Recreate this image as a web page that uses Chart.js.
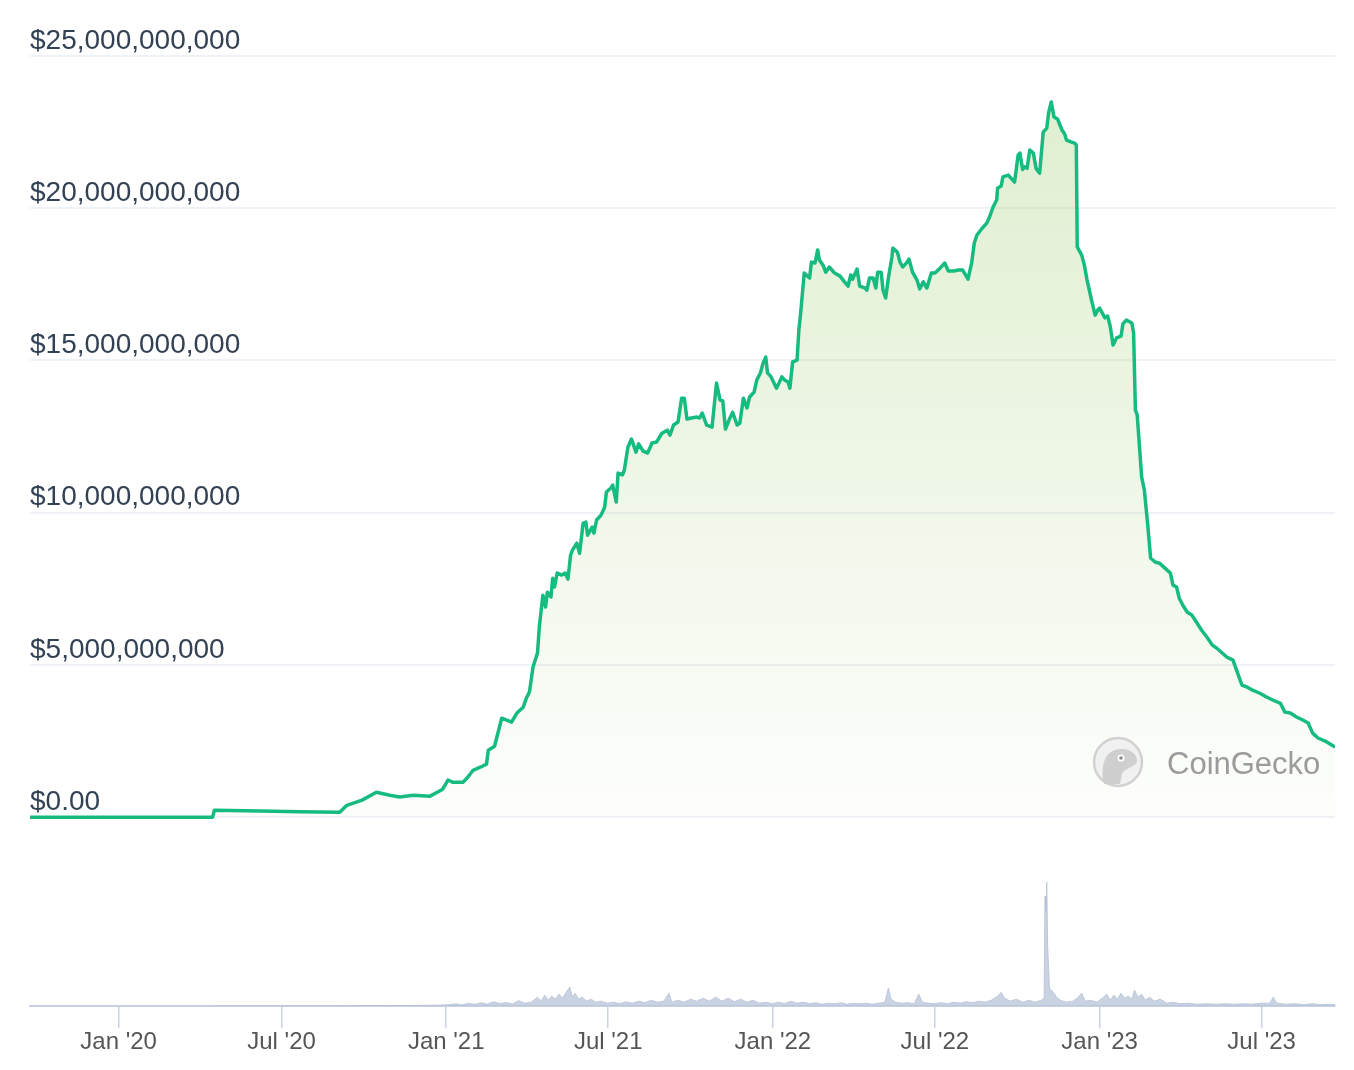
<!DOCTYPE html>
<html>
<head>
<meta charset="utf-8">
<title>Market Cap</title>
<script src="https://cdn.jsdelivr.net/npm/chart.js@4.4.0/dist/chart.umd.min.js"></script>
<style>
  html, body { margin: 0; padding: 0; background: #fff; }
  #wrap { width: 1354px; height: 1070px; }
</style>
</head>
<body>
<div id="wrap"><canvas id="myChart" width="1354" height="1070"></canvas></div>
<script>
// market cap, billions of USD
var capDates = ["2019-09-24","2020-04-15","2020-04-17","2020-06-07","2020-07-21","2020-09-04","2020-09-12","2020-09-29","2020-10-15","2020-10-30","2020-11-10","2020-11-25","2020-12-14","2020-12-22","2020-12-28",
  "2021-01-03","2021-01-08","2021-01-20","2021-01-25","2021-01-31","2021-02-08","2021-02-15","2021-02-17","2021-02-24","2021-03-04","2021-03-15","2021-03-21","2021-03-28","2021-04-01","2021-04-04","2021-04-08","2021-04-13","2021-04-15","2021-04-19","2021-04-22","2021-04-24","2021-04-28","2021-04-30","2021-05-02","2021-05-05","2021-05-10","2021-05-14","2021-05-17","2021-05-20","2021-05-22","2021-05-27","2021-05-30","2021-06-03","2021-06-06","2021-06-08","2021-06-13","2021-06-15","2021-06-18","2021-06-23","2021-06-27","2021-06-29","2021-07-04","2021-07-06","2021-07-10","2021-07-12","2021-07-17","2021-07-19","2021-07-23","2021-07-27","2021-08-01","2021-08-04","2021-08-09","2021-08-14","2021-08-19","2021-08-24","2021-08-30","2021-09-05","2021-09-08","2021-09-12","2021-09-17","2021-09-21","2021-09-24","2021-09-27","2021-10-02","2021-10-08","2021-10-11","2021-10-14","2021-10-19","2021-10-25","2021-10-30","2021-11-03","2021-11-06","2021-11-09","2021-11-13","2021-11-17","2021-11-22","2021-11-25","2021-11-29","2021-12-03","2021-12-06","2021-12-11","2021-12-14","2021-12-18","2021-12-21","2021-12-24","2021-12-26","2021-12-30",
  "2022-01-05","2022-01-11","2022-01-14","2022-01-18","2022-01-20","2022-01-23","2022-01-28","2022-01-30","2022-02-01","2022-02-05","2022-02-11","2022-02-13","2022-02-17","2022-02-20","2022-02-22","2022-02-26","2022-03-01","2022-03-05","2022-03-11","2022-03-17","2022-03-22","2022-03-26","2022-03-29","2022-03-31","2022-04-05","2022-04-08","2022-04-14","2022-04-16","2022-04-19","2022-04-23","2022-04-26","2022-04-28","2022-05-02","2022-05-04","2022-05-07","2022-05-10","2022-05-14","2022-05-15","2022-05-20","2022-05-23","2022-05-26","2022-05-31","2022-06-02","2022-06-06","2022-06-11","2022-06-14","2022-06-18","2022-06-22","2022-06-27","2022-07-01","2022-07-07","2022-07-12","2022-07-16","2022-07-22","2022-07-27","2022-08-01","2022-08-07","2022-08-11","2022-08-14","2022-08-17","2022-08-23","2022-08-28","2022-08-31","2022-09-04","2022-09-08","2022-09-09","2022-09-13","2022-09-15","2022-09-21","2022-09-28","2022-10-02","2022-10-04","2022-10-07","2022-10-09","2022-10-12","2022-10-15","2022-10-19","2022-10-22","2022-10-26","2022-10-30","2022-11-03","2022-11-05","2022-11-08","2022-11-11","2022-11-15","2022-11-20","2022-11-23","2022-11-25","2022-11-30","2022-12-04","2022-12-06","2022-12-07","2022-12-12","2022-12-15","2022-12-18","2022-12-20","2022-12-23","2022-12-27","2022-12-30",
  "2023-01-01","2023-01-07","2023-01-10","2023-01-13","2023-01-16","2023-01-20","2023-01-25","2023-01-27","2023-01-31","2023-02-06","2023-02-08","2023-02-10","2023-02-12","2023-02-17","2023-02-20","2023-02-24","2023-02-27","2023-03-04","2023-03-09","2023-03-15","2023-03-21","2023-03-24","2023-03-28","2023-03-31","2023-04-04","2023-04-09","2023-04-14","2023-04-20","2023-04-25","2023-05-01","2023-05-07","2023-05-12","2023-05-18","2023-05-23","2023-05-30","2023-06-03","2023-06-09","2023-06-15","2023-06-21","2023-06-29","2023-07-07","2023-07-14","2023-07-22","2023-07-27","2023-08-02","2023-08-09","2023-08-16","2023-08-22","2023-08-27","2023-09-02","2023-09-10","2023-09-21"];

var capValues = [0,0,0.23,0.20,0.18,0.16,0.39,0.56,0.82,0.72,0.66,0.72,0.69,0.82,0.92,
  1.22,1.15,1.15,1.31,1.54,1.64,1.74,2.20,2.33,3.25,3.12,3.42,3.61,3.94,4.11,4.93,5.39,6.24,7.29,6.90,7.39,7.23,7.85,7.56,8.02,7.95,8.02,7.82,8.61,8.77,9.00,8.67,9.66,9.69,9.26,9.53,9.33,9.76,9.92,10.18,10.68,10.81,10.91,10.35,11.30,11.24,11.40,12.15,12.42,11.99,12.26,12.02,11.96,12.29,12.32,12.61,12.71,12.55,12.88,12.98,13.76,13.76,13.08,13.11,13.14,13.11,13.27,12.88,12.81,14.26,13.70,13.67,12.75,13.04,13.30,12.88,12.94,13.76,13.44,13.80,13.96,14.36,14.59,14.91,15.11,14.59,14.46,
  14.09,14.46,14.36,14.29,14.09,14.95,15.01,16.00,16.56,17.87,17.71,18.23,18.20,18.63,18.30,18.13,17.90,18.07,17.87,17.77,17.58,17.44,17.81,17.67,18.00,17.44,17.38,17.31,17.71,17.71,17.38,17.90,17.90,17.31,17.05,17.71,18.40,18.69,18.56,18.23,18.07,18.23,18.33,17.90,17.64,17.35,17.58,17.38,17.87,17.87,18.04,18.20,17.94,17.94,17.97,17.97,17.67,18.20,18.86,19.12,19.35,19.51,19.71,20.04,20.27,20.66,20.73,21.03,21.09,20.86,21.75,21.81,21.27,21.36,21.31,21.91,21.81,21.31,21.15,22.50,22.63,23.13,23.49,23.00,22.93,22.57,22.44,22.24,22.18,22.14,22.08,18.73,18.46,18.13,17.64,17.38,16.98,16.49,16.66,
  16.72,16.40,16.46,16.10,15.51,15.74,15.80,16.20,16.33,16.23,15.90,13.37,13.21,11.17,10.74,9.53,8.51,8.38,8.34,8.18,8.02,7.62,7.56,7.19,6.96,6.73,6.64,6.37,6.14,5.91,5.65,5.55,5.39,5.26,5.16,4.83,4.34,4.27,4.17,4.07,3.94,3.84,3.74,3.45,3.42,3.29,3.19,3.09,2.76,2.60,2.50,2.30];

// 24h volume, millions of USD
var volDates = ["2019-09-24","2020-04-15","2020-04-17","2020-09-01","2020-10-01","2020-11-01","2020-12-01","2020-12-20",
  "2021-01-05","2021-01-12","2021-01-19","2021-01-26","2021-02-02","2021-02-09","2021-02-16","2021-02-23","2021-03-02","2021-03-09","2021-03-16","2021-03-23","2021-03-30","2021-04-06","2021-04-13","2021-04-17","2021-04-21","2021-04-25","2021-04-29","2021-05-03","2021-05-07","2021-05-11","2021-05-15","2021-05-19","2021-05-22","2021-05-25","2021-05-29","2021-06-02","2021-06-07","2021-06-12","2021-06-17","2021-06-23","2021-06-30","2021-07-07","2021-07-14","2021-07-21","2021-07-28","2021-08-04","2021-08-11","2021-08-18","2021-08-25","2021-09-01","2021-09-07","2021-09-10","2021-09-17","2021-09-24","2021-10-01","2021-10-08","2021-10-15","2021-10-22","2021-10-29","2021-11-05","2021-11-12","2021-11-19","2021-11-26","2021-12-03","2021-12-10","2021-12-17","2021-12-24","2021-12-31",
  "2022-01-07","2022-01-14","2022-01-21","2022-01-28","2022-02-04","2022-02-11","2022-02-18","2022-02-25","2022-03-04","2022-03-11","2022-03-18","2022-03-25","2022-04-01","2022-04-08","2022-04-15","2022-04-22","2022-04-29","2022-05-06","2022-05-10","2022-05-13","2022-05-18","2022-05-25","2022-06-01","2022-06-08","2022-06-13","2022-06-17","2022-06-24","2022-07-01","2022-07-08","2022-07-15","2022-07-22","2022-07-29","2022-08-05","2022-08-12","2022-08-19","2022-08-26","2022-09-02","2022-09-09","2022-09-13","2022-09-17","2022-09-23","2022-09-30","2022-10-07","2022-10-14","2022-10-21","2022-10-28","2022-10-31","2022-11-01","2022-11-02","2022-11-03","2022-11-04","2022-11-06","2022-11-10","2022-11-14","2022-11-18","2022-11-25","2022-12-02","2022-12-07","2022-12-12","2022-12-16","2022-12-22","2022-12-29",
  "2023-01-04","2023-01-09","2023-01-13","2023-01-17","2023-01-21","2023-01-25","2023-01-29","2023-02-02","2023-02-06","2023-02-09","2023-02-13","2023-02-17","2023-02-21","2023-02-26","2023-03-03","2023-03-10","2023-03-17","2023-03-24","2023-04-01","2023-04-10","2023-04-20","2023-05-01","2023-05-12","2023-05-22","2023-06-01","2023-06-10","2023-06-20","2023-06-30","2023-07-10","2023-07-14","2023-07-18","2023-07-28","2023-08-07","2023-08-17","2023-08-27","2023-09-06","2023-09-14","2023-09-21"];

var volValues = [0,0,3,3,6,5,8,10,
  15,25,12,30,18,35,20,45,25,38,22,55,30,40,90,50,110,60,100,70,120,80,140,190,90,130,70,90,50,70,40,50,30,40,25,45,30,50,35,60,40,50,130,40,60,40,70,50,80,50,90,50,80,45,70,40,60,30,40,25,
  40,25,50,30,40,25,35,20,30,25,35,20,30,25,30,20,30,40,180,70,40,30,35,25,120,40,30,25,35,25,40,30,45,35,50,40,60,100,140,80,50,70,40,60,40,60,80,1100,950,1240,600,180,140,90,60,40,50,80,130,50,60,40,
  80,120,60,110,70,130,80,100,70,160,90,120,60,90,50,70,30,40,25,30,20,25,20,25,20,25,20,30,30,90,30,20,25,15,25,15,20,15];

var tickDates = ["2020-01-01","2020-07-01","2021-01-01","2021-07-01","2022-01-01","2022-07-01","2023-01-01","2023-07-01"];
var tickLabels = ["Jan '20","Jul '20","Jan '21","Jul '21","Jan '22","Jul '22","Jan '23","Jul '23"];
var capTicks = [0, 5e9, 10e9, 15e9, 20e9, 25e9];

var capPoints = capDates.map(function (d, i) { return { x: Date.parse(d), y: capValues[i] * 1e9 }; });
var volPoints = volDates.map(function (d, i) { return { x: Date.parse(d), y: volValues[i] * 1e6 }; });

function money(v) {
  if (v === 0) return "$0.00";
  return "$" + String(v).replace(/\B(?=(\d{3})+(?!\d))/g, ",");
}

// the zero line sits above the volume strip
var capMax = 25e9;
var capMin = -capMax * 189 / 761;

var watermark = {
  id: 'watermark',
  afterDatasetsDraw: function (chart) {
    var c = chart.ctx;
    c.save();
    c.beginPath();
    c.arc(1118, 762, 24, 0, Math.PI * 2);
    c.fillStyle = 'rgba(240,240,240,0.9)';
    c.fill();
    c.lineWidth = 2.5;
    c.strokeStyle = 'rgba(205,205,205,0.9)';
    c.stroke();
    // gecko head
    c.beginPath();
    c.moveTo(1104, 784);
    c.bezierCurveTo(1100, 768, 1104, 750, 1120, 749);
    c.bezierCurveTo(1132, 748, 1138, 756, 1137, 762);
    c.bezierCurveTo(1134, 768, 1124, 768, 1122, 774);
    c.lineTo(1120, 784);
    c.closePath();
    c.fillStyle = 'rgba(205,205,205,0.95)';
    c.fill();
    c.beginPath();
    c.arc(1121, 758, 3.5, 0, Math.PI * 2);
    c.fillStyle = '#ffffff';
    c.fill();
    c.beginPath();
    c.arc(1121, 758, 1.8, 0, Math.PI * 2);
    c.fillStyle = '#8a8a8a';
    c.fill();
    c.font = '31px "Liberation Sans", Arial, sans-serif';
    c.fillStyle = 'rgba(150,150,150,0.95)';
    c.textBaseline = 'middle';
    c.textAlign = 'left';
    c.fillText('CoinGecko', 1167, 765);
    c.restore();
  }
};

var ctx = document.getElementById("myChart");

var myChart = new Chart(ctx, {
  type: 'line',
  data: {
    datasets: [
      {
        label: "Market Cap",
        data: capPoints,
        yAxisID: 'y',
        borderColor: "#16bb80",
        borderWidth: 3.5,
        borderJoinStyle: 'round',
        pointRadius: 0,
        tension: 0,
        fill: 'origin',
        backgroundColor: function (context) {
          var chart = context.chart;
          var area = chart.chartArea;
          if (!area) return 'rgba(150,200,100,0.15)';
          var y0 = chart.scales.y.getPixelForValue(0);
          var g = chart.ctx.createLinearGradient(0, area.top, 0, y0);
          g.addColorStop(0, 'rgba(150,200,100,0.32)');
          g.addColorStop(0.5, 'rgba(150,200,100,0.17)');
          g.addColorStop(1, 'rgba(150,200,100,0.02)');
          return g;
        }
      },
      {
        label: "Volume",
        data: volPoints,
        yAxisID: 'yVol',
        borderColor: "rgba(180,192,214,0.8)",
        borderWidth: 1,
        pointRadius: 0,
        tension: 0,
        fill: 'origin',
        backgroundColor: "rgba(180,192,214,0.7)"
      }
    ]
  },
  options: {
    responsive: false,
    animation: false,
    layout: { padding: { left: 30, right: 19, top: 56, bottom: 13 } },
    plugins: {
      legend: { display: false },
      tooltip: { enabled: false }
    },
    scales: {
      x: {
        type: 'linear',
        min: Date.parse(capDates[0]),
        max: Date.parse(capDates[capDates.length - 1]),
        afterBuildTicks: function (scale) {
          scale.ticks = tickDates.map(function (d) { return { value: Date.parse(d) }; });
        },
        ticks: {
          autoSkip: false,
          maxRotation: 0,
          padding: 0,
          color: "#555555",
          font: { family: '"Liberation Sans", Arial, sans-serif', size: 24 },
          callback: function (v, i) { return tickLabels[i]; }
        },
        grid: { drawOnChartArea: false, drawTicks: true, tickLength: 22, color: "#c9d3e3", lineWidth: 1.5 },
        border: { display: true, color: "#c9d3e3", width: 2 }
      },
      y: {
        type: 'linear',
        position: 'left',
        min: capMin,
        max: capMax,
        afterBuildTicks: function (scale) {
          scale.ticks = capTicks.map(function (v) { return { value: v }; });
        },
        ticks: {
          mirror: true,
          padding: 0,
          labelOffset: -15,
          color: "#334155",
          font: { family: '"Liberation Sans", Arial, sans-serif', size: 28 },
          callback: function (v) { return money(v); }
        },
        grid: { color: "#eff2f7", lineWidth: 2, drawTicks: false },
        border: { display: false }
      },
      yVol: {
        type: 'linear',
        display: false,
        min: 0,
        max: 9500e6
      }
    }
  },
  plugins: [watermark]
});
</script>
</body>
</html>
